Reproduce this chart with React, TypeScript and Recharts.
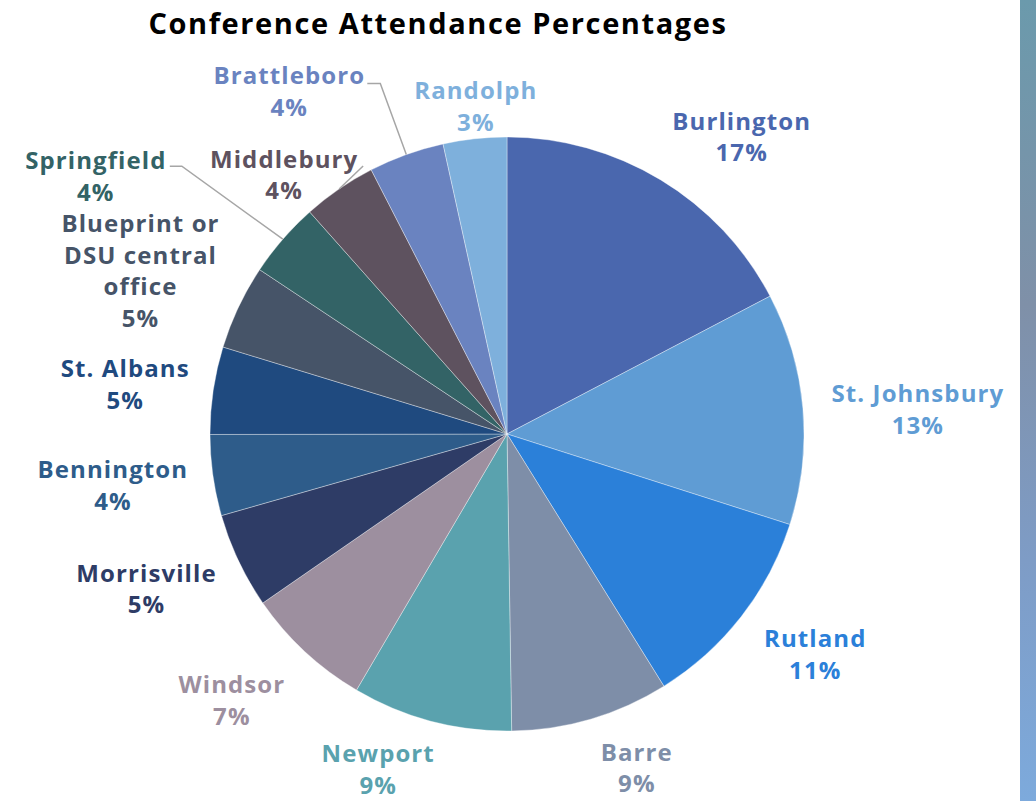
import React from 'react';
import { PieChart, Pie, Cell } from 'recharts';

const sites = [
  'Burlington',
  'St. Johnsbury',
  'Rutland',
  'Barre',
  'Newport',
  'Windsor',
  'Morrisville',
  'Bennington',
  'St. Albans',
  'Blueprint or\nDSU central\noffice',
  'Springfield',
  'Middlebury',
  'Brattleboro',
  'Randolph',
];

// share of attendees
const attendance = [17.3, 12.6, 11.2, 8.6, 8.7, 6.9, 5.2, 4.4, 4.75, 4.6, 4.1, 4.0, 4.1, 3.45];

const sliceColors = [
  '#4a67ae', '#5f9cd4', '#2b80d9', '#7e8ea8', '#5aa2ae', '#9d8f9f', '#2e3c66',
  '#2e5c8a', '#1f4a7f', '#465468', '#336366', '#5e525f', '#6a83c0', '#7eb0dc',
];

// label centre relative to the point on the arc at the slice's mid angle
// leader: end of the leader line relative to the label centre (elbow + horizontal stub)
type LabelPos = { dx: number; dy: number; leader?: { x: number; y: number; stub: number } };
const labelPos: LabelPos[] = [
  { dx: 81, dy: -44 },
  { dx: 115, dy: 0 },
  { dx: 74, dy: 37 },
  { dx: 46, dy: 48 },
  { dx: -53, dy: 47 },
  { dx: -73, dy: 48 },
  { dx: -92, dy: 27 },
  { dx: -100, dy: 9 },
  { dx: -88, dy: -7 },
  { dx: -98, dy: -37 },
  { dx: -187, dy: -64, leader: { x: 86, y: -9, stub: 12 } },
  { dx: -55, dy: -15, leader: { x: 79, y: -8, stub: 0 } },
  { dx: -117, dy: -64, leader: { x: 91, y: -7, stub: 13 } },
  { dx: 1, dy: -33 },
];

const RADIAN = Math.PI / 180;
const LINE_H = 31.7;
const FONT = '"Open Sans", "DejaVu Sans", sans-serif';

const renderLabel = (props: any) => {
  const { cx, cy, midAngle, outerRadius, index, percent, name } = props;
  const ax = cx + outerRadius * Math.cos(-midAngle * RADIAN);
  const ay = cy + outerRadius * Math.sin(-midAngle * RADIAN);
  const pos = labelPos[index];
  const lx = ax + pos.dx;
  const ly = ay + pos.dy;
  const lines = [...String(name).split('\n'), `${Math.round(percent * 100)}%`];
  const top = ly - ((lines.length - 1) * LINE_H) / 2;
  let leader = null;
  if (pos.leader) {
    const ex = lx + pos.leader.x;
    const ey = ly + pos.leader.y;
    leader = (
      <polyline
        points={`${ax},${ay} ${ex},${ey} ${ex - pos.leader.stub},${ey}`}
        fill="none"
        stroke="#a6a6a6"
        strokeWidth={1.5}
      />
    );
  }
  return (
    <g key={`lbl-${index}`}>
      {leader}
      <text
        x={lx}
        y={top}
        fill={sliceColors[index]}
        textAnchor="middle"
        fontFamily={FONT}
        fontWeight={700}
        fontSize={24}
        letterSpacing={1.1}
      >
        {lines.map((t, i) => (
          <tspan key={i} x={lx} y={top + i * LINE_H} dominantBaseline="central">
            {t}
          </tspan>
        ))}
      </text>
    </g>
  );
};

const data = sites.map((name, i) => ({ name, value: attendance[i] }));

export default function App() {
  return (
    <div style={{ position: 'absolute', left: 0, top: 0, width: 1036, height: 801, background: '#ffffff', overflow: 'hidden' }}>
      <style>{`.recharts-pie-sectors { filter: drop-shadow(0px 0px 6px rgba(0,0,0,0.28)); }`}</style>
      <div
        style={{
          position: 'absolute',
          left: 438,
          top: 22,
          transform: 'translate(-50%, -50%)',
          whiteSpace: 'nowrap',
          fontFamily: FONT,
          fontWeight: 700,
          fontSize: 29,
          letterSpacing: 1.6,
          color: '#000000',
        }}
      >
        Conference Attendance Percentages
      </div>
      <div
        style={{
          position: 'absolute',
          left: 1020,
          top: 0,
          width: 16,
          height: 801,
          background: 'linear-gradient(to bottom, #6b9aac 0%, #7f90a8 38%, #7e9cc6 70%, #7daadc 100%)',
        }}
      />
      <PieChart width={1036} height={801} margin={{ top: 0, right: 0, bottom: 0, left: 0 }} style={{ position: 'absolute', left: 0, top: 0 }}>
        <Pie
          data={data}
          dataKey="value"
          nameKey="name"
          cx={507}
          cy={434}
          outerRadius={297}
          startAngle={90}
          endAngle={-270}
          stroke="rgba(255,255,255,0.45)"
          strokeWidth={0.8}
          label={renderLabel}
          labelLine={false}
          isAnimationActive={false}
        >
          {data.map((entry, index) => (
            <Cell key={`cell-${index}`} fill={sliceColors[index]} />
          ))}
        </Pie>
      </PieChart>
    </div>
  );
}
